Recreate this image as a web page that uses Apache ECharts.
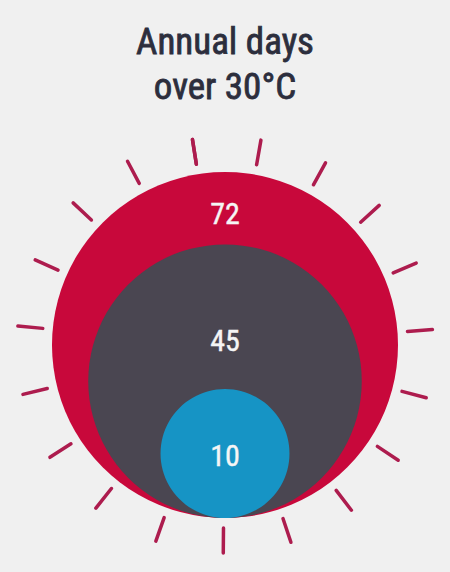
<!DOCTYPE html>
<html>
<head>
<meta charset="utf-8">
<script src="https://cdn.jsdelivr.net/npm/echarts@6/dist/echarts.min.js"></script>
<style>
html,body{margin:0;padding:0;background:#f0f0f0;}
#main{width:450px;height:572px;}
</style>
</head>
<body>
<div id="main"></div>
<script>
// ---- data ----
const titleLines = ['Annual days', 'over 30°C'];
const categories = ['Highest', 'Middle', 'Lowest'];
const values = [72, 45, 10];
const colors = ['#c8083b', '#4a4651', '#1694c5'];
const rayCount = 19;

// ---- layout ----
const W = 450, H = 572;
const bottomPx = 518;          // common bottom of the circles
const maxRadiusPx = 173;       // pixel radius of the biggest circle
const maxVal = Math.max.apply(null, values);
const pxPerUnit = maxRadiusPx / Math.sqrt(maxVal);
const xHalf = (W / 2) / pxPerUnit;
const yMax = bottomPx / pxPerUnit;
const labelFrac = [0.24, 0.70, 1.03];
const FONT = "'Roboto Condensed', Roboto, 'Noto Sans', sans-serif";

const chart = echarts.init(document.getElementById('main'), null, {renderer: 'svg'});

const option = {
  backgroundColor: '#f0f0f0',
  animation: false,
  title: {
    text: titleLines.join('\n'),
    left: 'center',
    top: 14,
    textStyle: {
      fontFamily: FONT,
      fontSize: 37,
      fontWeight: 'normal',
      color: '#2c2e3d',
      textBorderColor: '#2c2e3d',
      textBorderWidth: 0.8,
      lineHeight: 45
    }
  },
  grid: {left: 0, right: 0, top: 0, bottom: H - bottomPx},
  xAxis: {type: 'value', min: -xHalf, max: xHalf, show: false},
  yAxis: {type: 'value', min: 0, max: yMax, show: false},
  series: [
    {
      type: 'gauge',
      center: [W / 2, bottomPx - maxRadiusPx],
      radius: 208,
      startAngle: 99,
      endAngle: 99 - 360,
      splitNumber: rayCount,
      min: 0,
      max: rayCount,
      axisLine: {show: false, lineStyle: {width: 0}},
      splitLine: {show: true, length: 25, distance: 0, lineStyle: {color: '#ad1c4e', width: 3.5, cap: 'round'}},
      axisTick: {show: false},
      axisLabel: {show: false},
      pointer: {show: false},
      anchor: {show: false},
      title: {show: false},
      detail: {show: false},
      data: []
    },
    {
      type: 'custom',
      coordinateSystem: 'cartesian2d',
      data: values.map((v, i) => ({name: categories[i], value: [0, v, i]})),
      renderItem: function (params, api) {
        const v = api.value(1);
        const i = api.value(2);
        const r = Math.sqrt(v);
        const c = api.coord([0, r]);
        const rp = api.size([r, r])[0];
        const top = c[1] - rp;
        return {
          type: 'group',
          children: [
            {type: 'circle', shape: {cx: c[0], cy: c[1], r: rp}, style: {fill: colors[i]}},
            {type: 'text', x: c[0], y: top + labelFrac[i] * rp,
             style: {text: String(v), fill: '#f5f5f5', fontSize: 30, fontWeight: 'normal', fontFamily: FONT,
                     stroke: '#f5f5f5', lineWidth: 0.4,
                     align: 'center', verticalAlign: 'middle'}}
          ]
        };
      }
    }
  ]
};
chart.setOption(option);
</script>
</body>
</html>
